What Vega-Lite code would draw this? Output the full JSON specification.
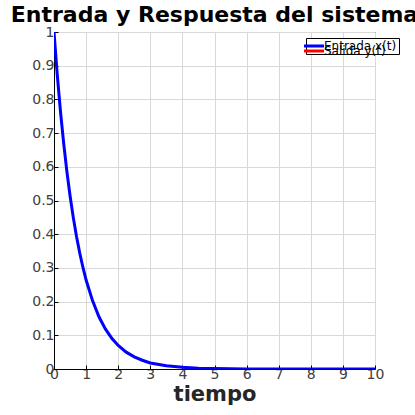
{
  "$schema": "https://vega.github.io/schema/vega-lite/v6.json",
  "autosize": {"type": "none"},
  "padding": {"left": 54, "top": 32, "right": 40, "bottom": 46},
  "width": 321,
  "height": 337,
  "title": {
    "text": "Entrada y Respuesta del sistema",
    "font": "DejaVu Sans",
    "fontSize": 22,
    "fontWeight": "bold",
    "color": "#000000",
    "anchor": "middle",
    "offset": -2
  },
  "config": {
    "view": {"stroke": "#000000", "strokeWidth": 1},
    "axis": {
      "gridColor": "#d9d9d9",
      "gridWidth": 1,
      "domainColor": "#000000",
      "tickColor": "#000000",
      "tickSize": -4,
      "labelFlush": false,
      "labelFont": "DejaVu Sans",
      "labelFontSize": 14,
      "labelColor": "#404040",
      "titleFont": "DejaVu Sans"
    },
    "legend": {
      "title": null,
      "orient": "none",
      "symbolType": "M-4,0H4",
      "symbolSize": 25,
      "symbolStrokeWidth": 3,
      "labelFont": "DejaVu Sans",
      "labelFontSize": 12,
      "labelColor": "#000000",
      "labelOffset": 4
    }
  },
  "data": {
    "values": [
      {"t": 0, "y": 1, "s": "Salida y(t)"},
      {"t": 0.1, "y": 0.875, "s": "Salida y(t)"},
      {"t": 0.2, "y": 0.766, "s": "Salida y(t)"},
      {"t": 0.3, "y": 0.671, "s": "Salida y(t)"},
      {"t": 0.4, "y": 0.587, "s": "Salida y(t)"},
      {"t": 0.5, "y": 0.514, "s": "Salida y(t)"},
      {"t": 0.6, "y": 0.45, "s": "Salida y(t)"},
      {"t": 0.7, "y": 0.394, "s": "Salida y(t)"},
      {"t": 0.8, "y": 0.345, "s": "Salida y(t)"},
      {"t": 0.9, "y": 0.302, "s": "Salida y(t)"},
      {"t": 1.0, "y": 0.264, "s": "Salida y(t)"},
      {"t": 1.2, "y": 0.203, "s": "Salida y(t)"},
      {"t": 1.4, "y": 0.155, "s": "Salida y(t)"},
      {"t": 1.6, "y": 0.119, "s": "Salida y(t)"},
      {"t": 1.8, "y": 0.091, "s": "Salida y(t)"},
      {"t": 2.0, "y": 0.07, "s": "Salida y(t)"},
      {"t": 2.25, "y": 0.05, "s": "Salida y(t)"},
      {"t": 2.5, "y": 0.036, "s": "Salida y(t)"},
      {"t": 2.75, "y": 0.026, "s": "Salida y(t)"},
      {"t": 3.0, "y": 0.018, "s": "Salida y(t)"},
      {"t": 3.5, "y": 0.0095, "s": "Salida y(t)"},
      {"t": 4.0, "y": 0.0049, "s": "Salida y(t)"},
      {"t": 4.5, "y": 0.0025, "s": "Salida y(t)"},
      {"t": 5.0, "y": 0.0013, "s": "Salida y(t)"},
      {"t": 6.0, "y": 0.0003, "s": "Salida y(t)"},
      {"t": 7.0, "y": 0.0001, "s": "Salida y(t)"},
      {"t": 8.0, "y": 0, "s": "Salida y(t)"},
      {"t": 10.0, "y": 0, "s": "Salida y(t)"},
      {"t": 0, "y": 1, "s": "Entrada x(t)"},
      {"t": 0.1, "y": 0.875, "s": "Entrada x(t)"},
      {"t": 0.2, "y": 0.766, "s": "Entrada x(t)"},
      {"t": 0.3, "y": 0.671, "s": "Entrada x(t)"},
      {"t": 0.4, "y": 0.587, "s": "Entrada x(t)"},
      {"t": 0.5, "y": 0.514, "s": "Entrada x(t)"},
      {"t": 0.6, "y": 0.45, "s": "Entrada x(t)"},
      {"t": 0.7, "y": 0.394, "s": "Entrada x(t)"},
      {"t": 0.8, "y": 0.345, "s": "Entrada x(t)"},
      {"t": 0.9, "y": 0.302, "s": "Entrada x(t)"},
      {"t": 1.0, "y": 0.264, "s": "Entrada x(t)"},
      {"t": 1.2, "y": 0.203, "s": "Entrada x(t)"},
      {"t": 1.4, "y": 0.155, "s": "Entrada x(t)"},
      {"t": 1.6, "y": 0.119, "s": "Entrada x(t)"},
      {"t": 1.8, "y": 0.091, "s": "Entrada x(t)"},
      {"t": 2.0, "y": 0.07, "s": "Entrada x(t)"},
      {"t": 2.25, "y": 0.05, "s": "Entrada x(t)"},
      {"t": 2.5, "y": 0.036, "s": "Entrada x(t)"},
      {"t": 2.75, "y": 0.026, "s": "Entrada x(t)"},
      {"t": 3.0, "y": 0.018, "s": "Entrada x(t)"},
      {"t": 3.5, "y": 0.0095, "s": "Entrada x(t)"},
      {"t": 4.0, "y": 0.0049, "s": "Entrada x(t)"},
      {"t": 4.5, "y": 0.0025, "s": "Entrada x(t)"},
      {"t": 5.0, "y": 0.0013, "s": "Entrada x(t)"},
      {"t": 6.0, "y": 0.0003, "s": "Entrada x(t)"},
      {"t": 7.0, "y": 0.0001, "s": "Entrada x(t)"},
      {"t": 8.0, "y": 0, "s": "Entrada x(t)"},
      {"t": 10.0, "y": 0, "s": "Entrada x(t)"}
    ]
  },
  "encoding": {
    "x": {
      "field": "t", "type": "quantitative",
      "scale": {"domain": [0, 10], "nice": false},
      "axis": {"values": [0,1,2,3,4,5,6,7,8,9,10], "format": "d", "title": "tiempo", "titleFontSize": 21, "titleFontWeight": "bold", "titleColor": "#262626", "titlePadding": 2, "labelPadding": 2}
    },
    "y": {
      "field": "y", "type": "quantitative",
      "scale": {"domain": [0, 1], "nice": false},
      "axis": {"values": [0,0.1,0.2,0.3,0.4,0.5,0.6,0.7,0.8,0.9,1], "format": "~g", "title": null, "labelPadding": 4}
    }
  },
  "layer": [
    {
      "transform": [{"filter": "datum.s == 'Salida y(t)'"}],
      "mark": {"type": "line", "strokeWidth": 1.5, "clip": true},
      "encoding": {
        "stroke": {
          "field": "s", "type": "nominal",
          "scale": {"domain": ["Salida y(t)"], "range": ["#ff0000"]},
          "legend": {"legendX": 252, "legendY": 11, "padding": 2, "zindex": 2}
        }
      }
    },
    {
      "transform": [{"filter": "datum.s == 'Entrada x(t)'"}],
      "mark": {"type": "line", "strokeWidth": 3, "clip": true},
      "encoding": {
        "color": {
          "field": "s", "type": "nominal",
          "scale": {"domain": ["Entrada x(t)"], "range": ["#0000ff"]},
          "legend": {"legendX": 252, "legendY": 6, "padding": 2, "strokeColor": "#000000", "fillColor": "#ffffff", "zindex": 1}
        }
      }
    }
  ]
}
